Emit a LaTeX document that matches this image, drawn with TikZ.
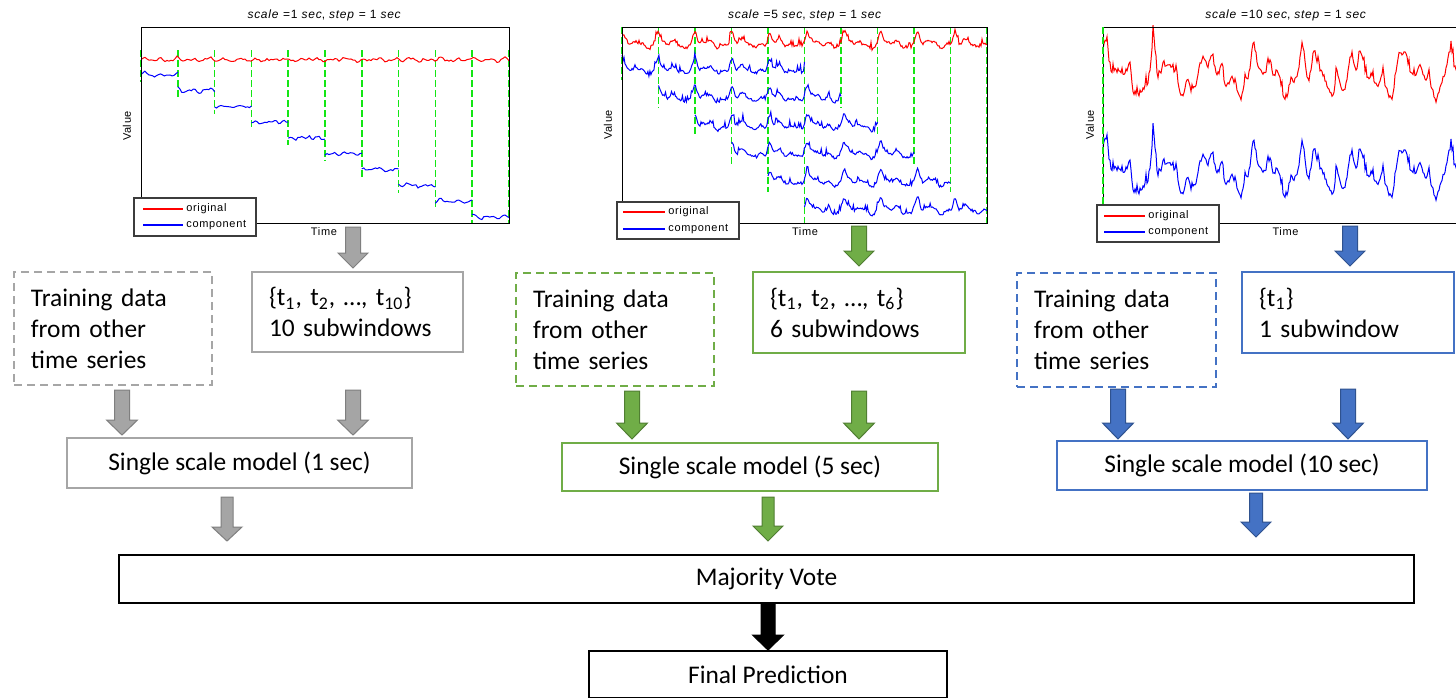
\documentclass[tikz,border=0pt]{standalone}
\usepackage{fontspec}
\setmainfont{Carlito}
\newfontfamily\plotfont{Liberation Sans}[LetterSpace=6]
\definecolor{ggray}{RGB}{166,166,166}
\definecolor{garrf}{RGB}{165,165,165}
\definecolor{garrd}{RGB}{127,127,127}
\definecolor{ogreen}{HTML}{70AD47}
\definecolor{ogreend}{HTML}{507E32}
\definecolor{oblue}{HTML}{4472C4}
\definecolor{oblued}{HTML}{2F528F}
\definecolor{dashgreen}{RGB}{20,230,20}
\definecolor{sigred}{RGB}{255,0,0}
\definecolor{sigblue}{RGB}{0,0,255}
\definecolor{legdark}{RGB}{60,60,60}
\newcommand\barr[7]{% style, cx, ytop, yhead, ytip, halfshaft, halfhead
  \draw[#1] ({#2-#6},#3) -- ({#2+#6},#3) -- ({#2+#6},#4) -- ({#2+#7},#4) -- (#2,#5)
    -- ({#2-#7},#4) -- ({#2-#6},#4) -- cycle;}
\begin{document}
\begin{tikzpicture}[x=0.5pt,y=-0.5pt,
  declare function={pk(\x)=\x*\x*\x*\x*\x*\x*\x*\x*\x*\x;
    cu(\x)=\x*\x*\x*\x;
    fA(\x)=1.1*sin(23*\x)+0.7*sin(41*\x+30)+2.2*pk(max(0,sin(11*\x+40)))+0.9*rand;
    fB(\x)=2.5*sin(9.7*\x+20)+1.8*sin(21*\x+60)+1.2*sin(37*\x)+11*pk(max(0,sin(9.7*\x+100)))+6*cu(max(0,rand))+1.0*rand;
    fC(\x)=12*sin(7.3*\x)+6*sin(17*\x+40)+4*sin(31*\x+10)+2*sin(43*\x+70)+26*pk(max(0,sin(7.3*\x+80)))+10*pk(max(0,sin(15.7*\x+20)))+10*cu(max(0,rand))+2.5*rand;},
  txt/.style={font=\fontsize{12.7}{15.5}\selectfont},
  box/.style={draw, line width=1pt, txt, inner ysep=0pt, fill=white},
  lbox/.style 2 args={box, text width=#1, minimum height=#2, align=left, inner xsep=8.5pt},
  cbox/.style 2 args={box, minimum width=#1, minimum height=#2, align=center, inner xsep=0pt},
  dbox/.style={dash pattern=on 4pt off 2.5pt},
  ptxt/.style={font=\plotfont\fontsize{5.5}{6.5}\selectfont, inner sep=0pt},
  ttxt/.style={font=\plotfont\fontsize{6}{7}\selectfont, inner sep=0pt},
  dgl/.style={draw=dashgreen, line width=0.75pt, dash pattern=on 3.5pt off 1.5pt},
  sr/.style={draw=sigred, line width=0.5pt},
  sb/.style={draw=sigblue, line width=0.5pt},
  lr/.style={draw=sigred, line width=0.6pt},
  lb/.style={draw=sigblue, line width=0.6pt},
  axis/.style={draw=black, line width=0.5pt},
  leg/.style={draw=legdark, line width=0.6pt, fill=white},
  garr/.style={fill=garrf, draw=garrd, line width=0.5pt},
  grarr/.style={fill=ogreen, draw=ogreend, line width=0.5pt},
  blarr/.style={fill=oblue, draw=oblued, line width=0.5pt},
  bkarr/.style={fill=black, draw=black, line width=0.5pt}
]
\useasboundingbox (0,0) rectangle (1456,697);
\fill[white] (0,0) rectangle (1456,697);

% ================= Plot 1 =================
\node[ttxt] (t1) at (324.5,15) {\textit{scale} =1 \textit{sec}, \textit{step} = 1 \textit{sec}};
\foreach \k [evaluate=\k as \xk using 141+36.8*\k, evaluate=\k as \yk using 82+15.8*\k] in {0,...,9}
  \draw[dgl] (\xk,50) -- (\xk,\yk);
\draw[dgl] (509,50) -- (509,223);
\pgfmathsetseed{11}
\draw[sr] plot[domain=0:368, samples=185, variable=\xx] ({141+\xx},{60-fA(\xx)});
\foreach \k [evaluate=\k as \a using 36.8*\k, evaluate=\k as \b using 36.8*(\k+1), evaluate=\k as \yb using 75+15.8*\k] in {0,...,9}
  \draw[sb] plot[domain=\a:\b, samples=20, variable=\xx] ({141+\xx},{\yb-fA(\xx)});
\draw[axis] (141,27) rectangle (509,223);
\node[ptxt, rotate=90] (v1) at (127,126) {Value};
\node[ptxt] (tm1) at (324,232) {Time};
\draw[leg] (134,198) rectangle (256,236);
\draw[lr] (143,209) -- (183,209);
\draw[lb] (143,225) -- (183,225);
\node[ptxt, anchor=west] (lo1) at (186,209) {original};
\node[ptxt, anchor=west] (lc1) at (186,225) {component};

% ================= Plot 2 =================
\node[ttxt] (t2) at (805,15) {\textit{scale} =5 \textit{sec}, \textit{step} = 1 \textit{sec}};
\foreach \k [evaluate=\k as \xk using 622+36.5*\k, evaluate=\k as \yk using 80+28*\k] in {0,...,4}
  \draw[dgl] (\xk,27) -- (\xk,\yk);
\draw[dgl] (804.5,27) -- (804.5,223);
\foreach \k [evaluate=\k as \xk using 622+36.5*\k, evaluate=\k as \yk using 80+28*(\k-5)] in {6,...,9}
  \draw[dgl] (\xk,27) -- (\xk,\yk);
\draw[dgl] (987,27) -- (987,223);
\pgfmathsetseed{5}
\draw[sr] plot[domain=0:365, samples=366, variable=\xx] ({622+\xx},{44-fB(\xx)});
\foreach \r [evaluate=\r as \a using 36.5*\r, evaluate=\r as \b using 36.5*(\r+5), evaluate=\r as \yb using 70+28*\r] in {0,...,5}
  \draw[sb] plot[domain=\a:\b, samples=184, variable=\xx] ({622+\xx},{\yb-fB(\xx)});
\draw[axis] (622,27) rectangle (987,223);
\node[ptxt, rotate=90] (v2) at (608,125) {Value};
\node[ptxt] (tm2) at (805,232) {Time};
\draw[leg] (617,202) rectangle (739,239);
\draw[lr] (623,212) -- (665,212);
\draw[lb] (623,229) -- (665,229);
\node[ptxt, anchor=west] (lo2) at (668,212) {original};
\node[ptxt, anchor=west] (lc2) at (668,229) {component};

% ================= Plot 3 =================
\node[ttxt] (t3) at (1286,15) {\textit{scale} =10 \textit{sec}, \textit{step} = 1 \textit{sec}};
\pgfmathsetseed{3}
\draw[sr] plot[domain=0:354, samples=355, variable=\xx] ({1103+\xx},{79-fC(\xx)});
\pgfmathsetseed{3}
\draw[sb] plot[domain=0:354, samples=355, variable=\xx] ({1103+\xx},{177-fC(\xx)});
\draw[axis] (1460,27) -- (1103,27) -- (1103,223) -- (1460,223);
\draw[dgl] (1103,27) -- (1103,223);
\node[ptxt, rotate=90] (v3) at (1090,125) {Value};
\node[ptxt] (tm3) at (1285.5,232) {Time};
\draw[leg] (1097,205) rectangle (1219,242);
\draw[lr] (1104,216) -- (1145,216);
\draw[lb] (1104,232) -- (1145,232);
\node[ptxt, anchor=west] (lo3) at (1148,216) {original};
\node[ptxt, anchor=west] (lc3) at (1148,232) {component};

% ================= Boxes =================
\node[lbox={82pt}{56.5pt}, dbox, draw=ggray] (g1) at (113,328.5) {Training data\\from other\\time series};
\node[lbox={88.5pt}{40pt}, draw=ggray] (g2) at (357.5,312) {\{t\textsubscript{1}, t\textsubscript{2}, …, t\textsubscript{10}\}\\10 subwindows};
\node[cbox={172.5pt}{25pt}, draw=ggray] (gm) at (239.5,463) {Single scale model (1 sec)};

\node[lbox={82pt}{56.5pt}, dbox, draw=ogreen] (e1) at (615,329.5) {Training data\\from other\\time series};
\node[lbox={89pt}{40.5pt}, draw=ogreen] (e2) at (859,312.5) {\{t\textsubscript{1}, t\textsubscript{2}, …, t\textsubscript{6}\}\\6 subwindows};
\node[cbox={188pt}{24pt}, draw=ogreen] (em) at (750,467) {Single scale model (5 sec)};

\node[lbox={82.5pt}{57pt}, dbox, draw=oblue] (b1) at (1116.5,330) {Training data\\from other\\time series};
\node[lbox={89pt}{40.5pt}, draw=oblue] (b2) at (1348,312.5) {\{t\textsubscript{1}\}\\1 subwindow};
\node[cbox={185pt}{24.5pt}, draw=oblue] (bm) at (1242,465.5) {Single scale model (10 sec)};

\node[cbox={647.5pt}{24pt}, draw=black] (mv) at (766.5,579) {Majority Vote};
\node[cbox={179pt}{23.5pt}, draw=black] (fp) at (768,674.5) {Final Prediction};

% ================= Arrows =================
\barr{garr}{353}{227}{253}{268}{7.5}{15}
\barr{grarr}{859}{226}{251}{266}{7.5}{15}
\barr{blarr}{1350}{226}{251}{266}{7.5}{15}

\barr{garr}{122}{390}{420}{435}{7.5}{15.5}
\barr{garr}{353}{390}{420}{435}{7.5}{15.5}
\barr{grarr}{632}{391}{423}{439}{7.5}{15.5}
\barr{grarr}{859}{391}{423}{439}{7.5}{15.5}
\barr{blarr}{1118}{389}{423}{439}{7.5}{15.5}
\barr{blarr}{1348}{389}{423}{439}{7.5}{15.5}

\barr{garr}{227}{497}{527}{541}{6}{15}
\barr{grarr}{768}{497}{526}{541}{6}{15}
\barr{blarr}{1256}{493}{522}{537}{6.5}{15}
\barr{bkarr}{768}{603}{635}{650}{7}{15.5}
\end{tikzpicture}
\end{document}
